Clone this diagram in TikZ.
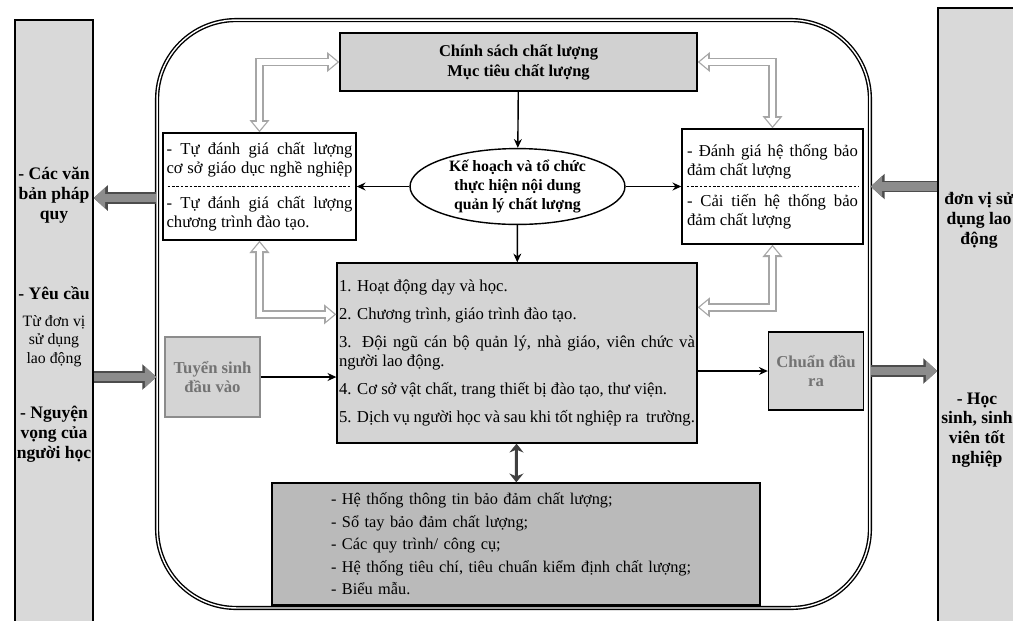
\documentclass[tikz,border=0pt]{standalone}
\usepackage{fontspec}
\setmainfont{Liberation Serif}
\usetikzlibrary{arrows.meta,shapes.geometric}

\begin{document}
\begin{tikzpicture}
      [x=0.02cm, y=-0.02cm,
       plainbox/.style={draw, line width=0.8pt, fill=white, inner sep=1pt},
       greybox/.style={plainbox, fill=black!18},
       boxtext/.style={align=left, inner sep=0pt, font=\fontsize{9.5}{11}\selectfont},
       sidebar/.style={draw, line width=0.8pt, fill=black!15, minimum width=1.56cm},
       coltext/.style={align=center, inner sep=0pt, font=\fontsize{10}{11.3}\selectfont\bfseries},
       flow/.style={line width=0.8pt, -{Stealth[length=5pt,width=4.5pt]}},
       link/.style={draw=black!75, line width=1.7pt, {Stealth[length=5pt,width=8pt]}-{Stealth[length=5pt,width=8pt]}},
       feedback/.style={draw=white, line width=3pt,
         {Triangle[length=4.6pt,width=7.4pt]}-{Triangle[length=4.6pt,width=7.4pt]},
         shorten <=1.2pt, shorten >=1.2pt,
         preaction={draw=black!35, line width=5pt, shorten <=0pt, shorten >=0pt,
           {Triangle[length=7pt,width=11pt]}-{Triangle[length=7pt,width=11pt]}}},
       bigarrow/.style={draw=black!45, line width=5pt, -{Triangle[length=6.5pt,width=11.5pt]},
         preaction={draw=black!70, line width=6.5pt, -{Triangle[length=8pt,width=14pt]}}}]
      \useasboundingbox (0, 0) rectangle (1013, 620);
      \fill[white] (0, 0) rectangle (1013, 620);

      \node[sidebar, minimum height=12.2cm](sources) at (54, 325) {};
      \node[coltext](legal) at (54, 195) {- Các văn\\bản pháp\\quy};
      \node[coltext](demand) at (54, 293) {- Yêu cầu};
      \node[coltext, font=\fontsize{9}{10.5}\selectfont](employer) at (54, 341) {Từ đơn vị\\sử dụng\\lao động};
      \node[coltext](wish) at (54, 434) {- Nguyện\\vọng của\\người học};

      \node[sidebar, minimum height=12.44cm](market) at (977, 319) {};
      \node[coltext](users) at (979, 220) {đơn vị sử\\dụng lao\\động};
      \node[coltext](graduates) at (977, 430) {- Học\\sinh, sinh\\viên tốt\\nghiệp};

      \node[draw, line width=0.8pt, double, double distance=0.8pt, rounded corners=45pt,
            minimum width=14.26cm, minimum height=11.76cm](system) at (513.5, 314) {};

      \node[greybox, minimum width=7.14cm, minimum height=1.16cm, align=center,
            font=\fontsize{9.4}{11.5}\selectfont\bfseries](policy) at (518.5, 62)
            {Chính sách chất lượng\\Mục tiêu chất lượng};
      \node[draw, ellipse, line width=0.8pt, fill=white, inner sep=0pt, minimum width=4.3cm,
            minimum height=1.46cm, align=center, font=\fontsize{9}{11}\selectfont\bfseries](plan)
            at (517.5, 186.5) {Kế hoạch và tổ chức\\thực hiện nội dung\\quản lý chất lượng};

      \node[plainbox, minimum width=3.86cm, minimum height=2.14cm](selfeval) at (259.5, 186.5) {};
      \node[boxtext](selfevalA) at (259.5, 160)
            {\makebox[3.72cm][s]{- Tự đánh giá chất lượng}\\\makebox[3.72cm][s]{cơ sở giáo dục nghề nghiệp}};
      \node[boxtext](selfevalB) at (259.5, 214)
            {\makebox[3.72cm][s]{- Tự đánh giá chất lượng}\\chương trình đào tạo.};
      \draw[line width=0.6pt, dash pattern=on 1.5pt off 1pt]
            ([xshift=3pt]selfeval.west) -- ([xshift=-3pt]selfeval.east);

      \node[plainbox, minimum width=3.62cm, minimum height=2.3cm](syseval) at (772.5, 186.5) {};
      \node[boxtext](sysevalA) at (772.5, 162)
            {\makebox[3.42cm][s]{- Đánh giá hệ thống bảo}\\đảm chất lượng};
      \node[boxtext](sysevalB) at (772.5, 212)
            {\makebox[3.42cm][s]{- Cải tiến hệ thống bảo}\\đảm chất lượng};
      \draw[line width=0.6pt, dash pattern=on 1.5pt off 1pt]
            ([xshift=3pt]syseval.west) -- ([xshift=-3pt]syseval.east);

      \node[greybox, fill=black!17, minimum width=7.2cm, minimum height=3.6cm,
            align=left, font=\fontsize{9.5}{11.3}\selectfont](content) at (517, 353)
            {1. Hoạt động dạy và học.\\[4.6pt]
             2. Chương trình, giáo trình đào tạo.\\[4.6pt]
             \makebox[7.12cm][s]{3. Đội ngũ cán bộ quản lý, nhà giáo, viên chức và}\\
             người lao động.\\[4.6pt]
             4. Cơ sở vật chất, trang thiết bị đào tạo, thư viện.\\[4.6pt]
             \makebox[7.12cm][s]{5. Dịch vụ người học và sau khi tốt nghiệp ra\ \ trường.}};

      \node[greybox, fill=black!27, minimum width=9.76cm, minimum height=2.44cm, text width=7.4cm,
            align=left, font=\fontsize{9.3}{12.8}\selectfont](tools) at (516, 544)
            {- Hệ thống thông tin bảo đảm chất lượng;\\
             - Sổ tay bảo đảm chất lượng;\\
             - Các quy trình/ công cụ;\\
             - Hệ thống tiêu chí, tiêu chuẩn kiểm định chất lượng;\\
             - Biểu mẫu.};

      \node[greybox, fill=black!17, draw=black!45, minimum width=1.9cm, minimum height=1.6cm,
            align=center, text=black!55, font=\fontsize{9.5}{11}\selectfont\bfseries](admission)
            at (212.5, 377) {Tuyển sinh\\đầu vào};
      \node[greybox, fill=black!17, minimum width=1.9cm, minimum height=1.56cm,
            align=center, text=black!55, font=\fontsize{9.5}{11}\selectfont\bfseries](outcome)
            at (816, 371) {Chuẩn đầu\\ra};

      \draw[flow](policy) -- (plan);
      \draw[flow](plan) -- (content);
      \draw[flow](plan) -- (selfeval);
      \draw[flow](plan) -- (syseval);
      \draw[link](content) -- (tools);
      \draw[flow](admission) -- (content.west |- admission);
      \draw[flow](content.east |- outcome) -- (outcome);

      \draw[feedback](selfeval.north) |- (policy.west);
      \draw[feedback](syseval.north) |- (policy.east);
      \draw[feedback](selfeval.south) |- ([yshift=22pt]content.west);
      \draw[feedback](syseval.south) |- ([yshift=26pt]content.east);

      \coordinate(outlvl) at (100, 198);
      \draw[bigarrow](system.west |- outlvl) -- (sources.east |- outlvl);
      \draw[bigarrow](sources.east |- admission) -- (system.west |- admission);
      \draw[bigarrow](market.west |- syseval) -- (system.east |- syseval);
      \draw[bigarrow](system.east |- outcome) -- (market.west |- outcome);
  \end{tikzpicture}
\end{document}
